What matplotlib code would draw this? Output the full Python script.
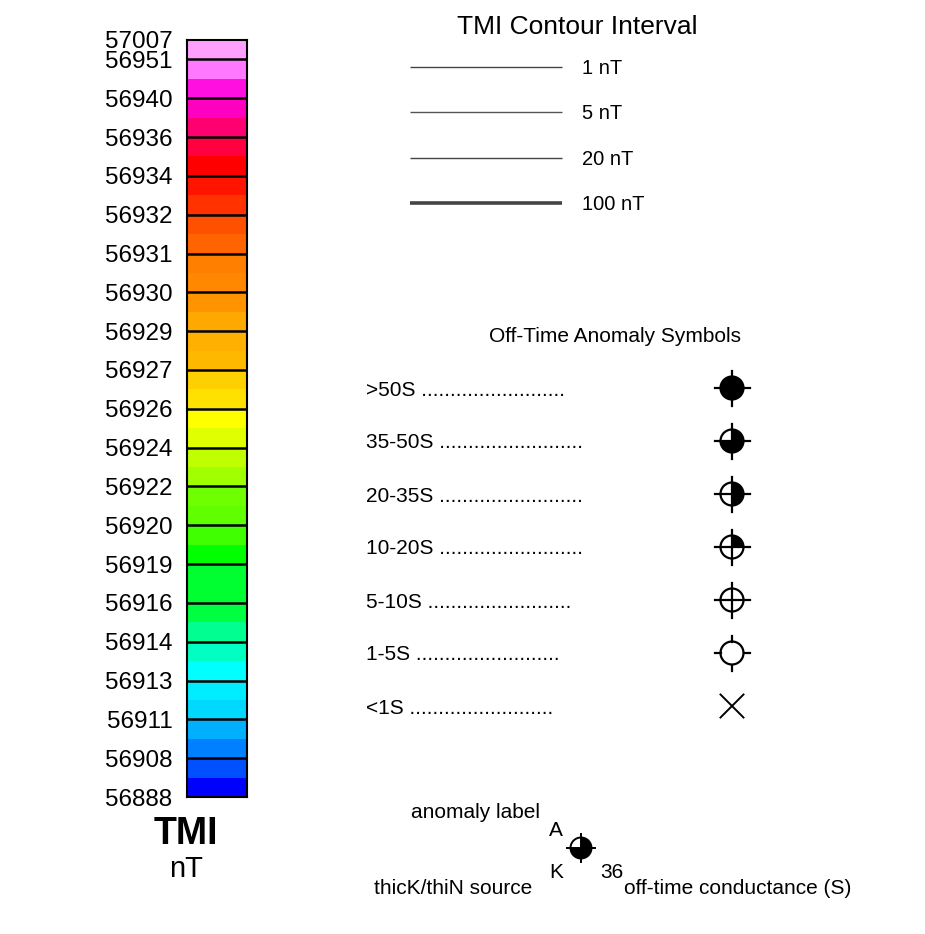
import matplotlib
matplotlib.use("Agg")
import matplotlib.pyplot as plt
from matplotlib.patches import Circle, Wedge
from matplotlib.lines import Line2D

plt.rcParams['font.family'] = ['Liberation Sans', 'DejaVu Sans']

# ---------------- data ----------------
band_colors = [
    "#ffa0ff", "#ff78ff", "#ff10e0", "#ff00c0", "#ff0070", "#ff0040", "#ff0000",
    "#ff1400", "#ff3200", "#ff5000", "#ff6400", "#ff8000", "#ff8800", "#ff9400",
    "#ffa800", "#ffb000", "#ffb800", "#ffd000", "#ffe000", "#ffff00", "#e0ff00",
    "#c0ff00", "#a0ff00", "#70ff00", "#60ff00", "#40ff00", "#00ff00", "#00ff30",
    "#00ff30", "#00ff40", "#00ff90", "#00ffc0", "#00ffff", "#00ecff", "#00d8ff",
    "#00b0ff", "#0080ff", "#0050ff", "#0000ff",
]
tick_values = ["57007", "56951", "56940", "56936", "56934", "56932", "56931",
               "56930", "56929", "56927", "56926", "56924", "56922", "56920",
               "56919", "56916", "56914", "56913", "56911", "56908", "56888"]
tick_positions = [0, 1] + list(range(3, 40, 2))

contour_labels = ["1 nT", "5 nT", "20 nT", "100 nT"]
contour_widths = [1.0, 1.0, 1.0, 2.6]
contour_colors = ["#444444", "#555555", "#444444", "#444444"]

symbol_labels = [">50S", "35-50S", "20-35S", "10-20S", "5-10S", "1-5S", "<1S"]
symbol_kinds = ["full", "three", "half", "quarter", "cross", "ring", "x"]

W, H = 925, 934
fig = plt.figure(figsize=(W / 100, H / 100), dpi=100)

# ---------------- colour bar ----------------
cb_left, cb_right, cb_top, cb_bottom = 187, 247, 40, 797
cax = fig.add_axes([cb_left / W, (H - cb_bottom) / H,
                    (cb_right - cb_left) / W, (cb_bottom - cb_top) / H])
n = len(band_colors)
cax.bar([0] * n, [1] * n, bottom=list(range(n)), width=1.0,
        color=band_colors, edgecolor="none", align="center")
cax.set_xlim(-0.5, 0.5)
cax.set_ylim(n, 0)
for p in tick_positions[1:-1]:
    cax.axhline(p, color="black", lw=1.8)
cax.set_xticks([])
cax.set_yticks(tick_positions)
cax.set_yticklabels(tick_values, fontsize=17.5)
cax.tick_params(axis="y", length=0, pad=10.5)
for s in cax.spines.values():
    s.set_linewidth(1.5)

fig.text(186 / W, 1 - 834 / H, "TMI", fontsize=27, fontweight="bold",
         ha="center", va="center")
fig.text(186 / W, 1 - 869 / H, "nT", fontsize=21, ha="center", va="center")

# ---------------- overlay axes in pixel coordinates ----------------
ax = fig.add_axes([0, 0, 1, 1])
ax.set_xlim(0, W)
ax.set_ylim(0, H)
ax.axis("off")


def Y(py):
    return H - py


# contour interval legend
ax.text(577, Y(27), "TMI Contour Interval", fontsize=19, ha="center", va="center")
for i, (lab, lw, col) in enumerate(zip(contour_labels, contour_widths, contour_colors)):
    yy = Y(67 + 45.3 * i)
    ax.plot([410, 562], [yy, yy], color=col, lw=lw, solid_capstyle="butt")
    ax.text(582, yy - 1.5, lab, fontsize=14.5, ha="left", va="center")


def draw_symbol(cx, cy, kind, r=11.5, L=17.5, lw=1.6):
    if kind == "x":
        d = 11.5
        ax.add_line(Line2D([cx - d, cx + d], [cy - d, cy + d], color="black", lw=1.4))
        ax.add_line(Line2D([cx - d, cx + d], [cy + d, cy - d], color="black", lw=1.4))
        return
    ax.add_patch(Circle((cx, cy), r, facecolor="white", edgecolor="none", zorder=3))
    spans = {"full": (0, 360), "three": (180, 450), "half": (-90, 90),
             "quarter": (0, 90)}
    if kind in spans:
        a0, a1 = spans[kind]
        ax.add_patch(Wedge((cx, cy), r, a0, a1, facecolor="black",
                           edgecolor="none", zorder=4))
    if kind == "ring":
        segs = [([cx - L, cx - r], [cy, cy]), ([cx + r, cx + L], [cy, cy]),
                ([cx, cx], [cy - L, cy - r]), ([cx, cx], [cy + r, cy + L])]
    else:
        segs = [([cx - L, cx + L], [cy, cy]), ([cx, cx], [cy - L, cy + L])]
    for xs, ys in segs:
        ax.add_line(Line2D(xs, ys, color="black", lw=lw, zorder=5))
    ax.add_patch(Circle((cx, cy), r, facecolor="none", edgecolor="black",
                        lw=lw, zorder=6))


ax.text(615, Y(337), "Off-Time Anomaly Symbols", fontsize=15, ha="center",
        va="center")
for i, (lab, kind) in enumerate(zip(symbol_labels, symbol_kinds)):
    yy = Y(388 + 53 * i)
    ax.text(366, yy - 2, lab + " " + "." * 25, fontsize=15, ha="left",
            va="center")
    draw_symbol(732, yy, kind)

# example annotation
ax.text(540, Y(813), "anomaly label", fontsize=15, ha="right", va="center")
ax.text(556, Y(830), "A", fontsize=15, ha="center", va="center")
ax.text(556, Y(872), "K", fontsize=15, ha="center", va="center")
ax.text(600, Y(872), "36", fontsize=15, ha="left", va="center")
ax.text(532, Y(888), "thicK/thiN source", fontsize=15, ha="right", va="center")
ax.text(624, Y(888), "off-time conductance (S)", fontsize=15, ha="left",
        va="center")
draw_symbol(581, Y(848), "three", r=10.5, L=14, lw=1.4)

fig.savefig("out.png", dpi=100, facecolor="white")
